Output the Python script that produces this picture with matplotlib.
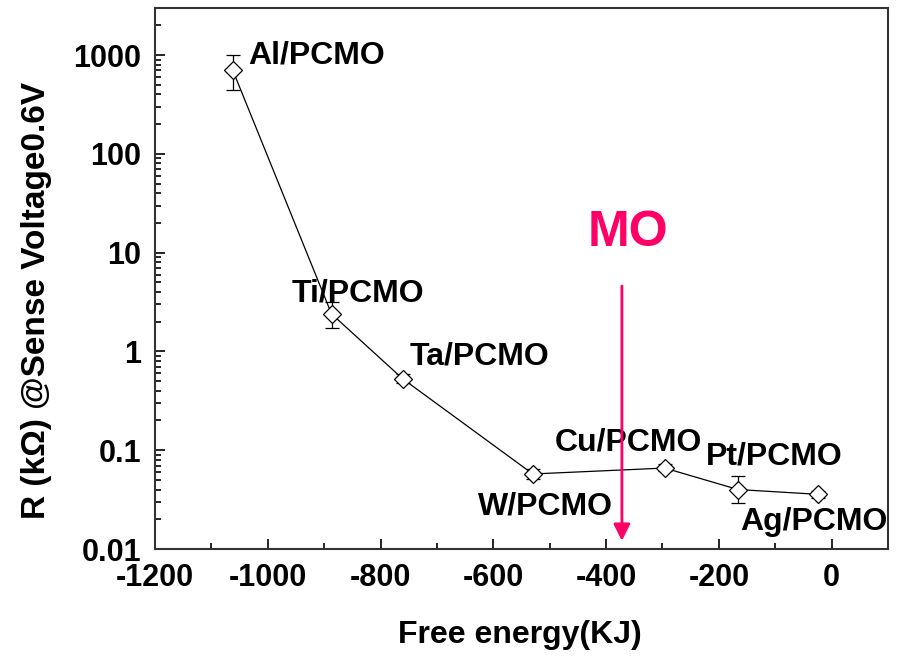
import numpy as np
import matplotlib
matplotlib.use('Agg')
from matplotlib import pyplot as plt
from matplotlib.ticker import LogLocator, FixedLocator, NullFormatter

# data
names = ['Al/PCMO', 'Ti/PCMO', 'Ta/PCMO', 'W/PCMO', 'Cu/PCMO', 'Pt/PCMO', 'Ag/PCMO']
energy = [-1062, -887, -761, -530, -296, -166, -25]
resist = [700, 2.4, 0.53, 0.0575, 0.066, 0.040, 0.0358]
err_lo = [258, 0.66, 0.05, 0.006, 0.005, 0.011, 0.003]
err_hi = [300, 0.8, 0.06, 0.007, 0.006, 0.015, 0.003]

# label anchors (left edge, vertical center)
label_x = [-1035, -957, -748, -627, -491, -223, -163]
label_y = [1000, 3.85, 0.89, 0.027, 0.12, 0.087, 0.0187]

xticks = [-1200, -1000, -800, -600, -400, -200, 0]
yticks = [0.01, 0.1, 1, 10, 100, 1000]
ytick_labels = ['0.01', '0.1', '1', '10', '100', '1000']

arrow_x = -372
arrow_top = 4.6
arrow_bottom = 0.0121

plt.rcParams['font.family'] = ['Liberation Sans', 'DejaVu Sans']
plt.rcParams['font.weight'] = 'bold'
plt.rcParams['axes.unicode_minus'] = False

fig = plt.figure(figsize=(9.03, 6.56), dpi=100)
ax = fig.add_axes([0.1717, 0.1631, 0.8117, 0.8247])

ax.errorbar(energy, resist, yerr=[err_lo, err_hi], color='black', lw=0.9,
            marker='D', ms=9, mfc='white', mec='black', mew=0.9,
            capsize=5, elinewidth=0.9, capthick=0.9)

for n, lx, ly in zip(names, label_x, label_y):
    ax.text(lx, ly, n, fontsize=23, fontweight='bold', ha='left', va='center')

ax.annotate('', xy=(arrow_x, arrow_bottom), xytext=(arrow_x, arrow_top),
            arrowprops=dict(arrowstyle='-|>', color='#FF0066', lw=2,
                            mutation_scale=25, shrinkA=0, shrinkB=0))
ax.text(arrow_x + 10, 16, 'MO', color='#FF0066', fontsize=36,
        fontweight='bold', ha='center', va='center')

ax.set_yscale('log')
ax.set_xlim(-1200, 100)
ax.set_ylim(0.01, 3000)

ax.xaxis.set_major_locator(FixedLocator(xticks))
ax.set_xticklabels([str(v) for v in xticks])
ax.xaxis.set_minor_locator(FixedLocator(np.arange(-1100, 100, 200)))
ax.yaxis.set_major_locator(FixedLocator(yticks))
ax.yaxis.set_minor_locator(LogLocator(base=10, subs=np.arange(2, 10)))
ax.yaxis.set_minor_formatter(NullFormatter())
ax.set_yticklabels(ytick_labels)

ax.tick_params(which='both', direction='in', top=False, right=False,
               labelsize=22, width=1.2, pad=10)
ax.tick_params(which='major', length=7)
ax.tick_params(which='minor', length=4)
for s in ax.spines.values():
    s.set_linewidth(1.5)
    s.set_color('#333333')

ax.set_xlabel('Free energy(KJ)', fontsize=23, fontweight='bold')
ax.set_ylabel('R (k\u03a9) @Sense Voltage0.6V', fontsize=24, fontweight='bold')
ax.xaxis.set_label_coords(0.498, -0.131)
ax.yaxis.set_label_coords(-0.14, 0.46)

fig.savefig('out.png', dpi=100)
